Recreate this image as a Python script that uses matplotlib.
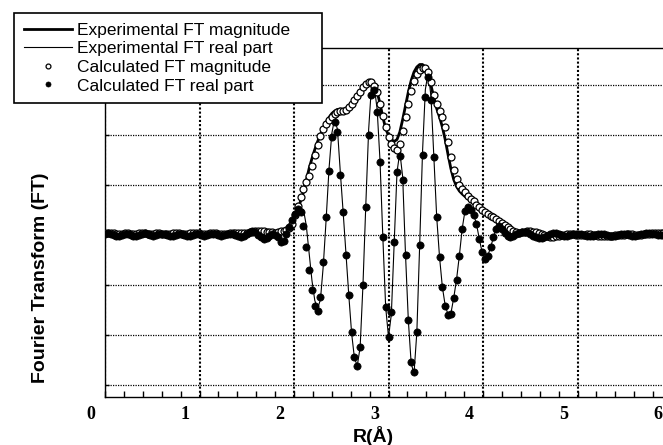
import numpy as np
import matplotlib
matplotlib.use("Agg")
import matplotlib.pyplot as plt
from matplotlib.ticker import MultipleLocator
from matplotlib.transforms import ScaledTranslation

# ---------------- data (R grid step 0.03, 0 .. 5.91) ----------------
r_grid = np.round(0.03 * np.arange(198), 2)

exp_mag = [
    # 0.00 - 1.77
    0.04, 0.05, 0.04, 0.03, 0.02, 0.02, 0.03, 0.03, 0.02, 0.01,
    0.01, 0.02, 0.03, 0.04, 0.04, 0.03, 0.02, 0.02, 0.02, 0.03,
    0.03, 0.02, 0.01, 0.01, 0.02, 0.02, 0.03, 0.03, 0.02, 0.02,
    0.02, 0.03, 0.04, 0.04, 0.03, 0.02, 0.02, 0.02, 0.03, 0.03,
    0.03, 0.02, 0.02, 0.01, 0.01, 0.02, 0.03, 0.04, 0.04, 0.03,
    0.03, 0.03, 0.04, 0.05, 0.06, 0.07, 0.07, 0.06, 0.05, 0.05,
    # 1.80 - 4.38
    0.05, 0.06, 0.05, 0.06, 0.10, 0.15, 0.25, 0.36, 0.50, 0.67,
    0.85, 1.08, 1.32, 1.52, 1.70, 1.86, 2.00, 2.12, 2.24, 2.34,
    2.42, 2.47, 2.50, 2.51, 2.50, 2.50, 2.52, 2.56, 2.62, 2.70,
    2.80, 2.92, 3.02, 3.08, 3.08, 3.00, 2.85, 2.62, 2.35, 2.12,
    1.98, 1.90, 1.86, 1.90, 2.05, 2.30, 2.58, 2.85, 3.08, 3.25,
    3.35, 3.40, 3.40, 3.33, 3.20, 2.98, 2.74, 2.52, 2.35, 2.15,
    1.90, 1.60, 1.32, 1.10, 0.96, 0.87, 0.81, 0.76, 0.72, 0.68,
    0.63, 0.59, 0.55, 0.51, 0.47, 0.43, 0.38, 0.34, 0.29, 0.25,
    0.20, 0.16, 0.12, 0.08, 0.05, 0.02, 0.01,
    # 4.41 - 5.91
    0.03, 0.06, 0.08, 0.09, 0.08, 0.06, 0.03, 0.00, -0.03, -0.05,
    -0.06, -0.05, -0.03, -0.01, 0.00, 0.01, 0.01, 0.01, 0.00, 0.00,
    0.00, 0.00, 0.01, 0.01, 0.00, -0.01, -0.02, -0.03, -0.04, -0.04,
    -0.04, -0.03, -0.02, -0.01, 0.00, 0.00, 0.00, 0.00, 0.01, 0.01,
    0.01, 0.00, 0.00, 0.01, 0.02, 0.03, 0.04, 0.05, 0.05, 0.04, 0.04,
]

exp_real = [
    0.00, 0.02, 0.03, 0.01, -0.02, -0.03, -0.01, 0.02, 0.03, 0.01,
    -0.02, -0.03, -0.01, 0.02, 0.03, 0.02, -0.01, -0.03, -0.02, 0.01,
    0.03, 0.02, -0.01, -0.03, -0.02, 0.01, 0.03, 0.02, -0.01, -0.02,
    -0.02, 0.01, 0.02, 0.02, 0.00, -0.02, -0.02, 0.00, 0.02, 0.02,
    0.00, -0.02, -0.02, 0.00, 0.02, 0.03, 0.01, -0.02, -0.04, -0.03,
    0.00, 0.04, 0.06, 0.05, 0.01, -0.04, -0.07, -0.06, -0.03, 0.00,
    0.00, -0.06, -0.18, -0.14, 0.00, 0.14, 0.28, 0.40, 0.48, 0.52,
    0.50, 0.18, -0.38, -0.92, -1.32, -1.48, -1.30, -0.62, 0.30, 1.30,
    2.02, 2.32, 2.10, 1.25, 0.45, -0.40, -1.22, -1.98, -2.48, -2.62,
    -2.25, -1.00, 0.60, 2.10, 2.98, 2.95, 2.50, 1.48, -0.05, -1.45,
    -2.05, -1.60, -0.20, 1.25, 1.65, 1.15, -0.40, -1.72, -2.58, -2.78,
    -1.95, -0.20, 1.65, 2.90, 3.25, 2.75, 1.55, 0.35, -0.45, -1.05,
    -1.42, -1.60, -1.58, -1.27, -0.90, -0.42, 0.12, 0.48, 0.56, 0.50,
    0.40, 0.22, -0.08, -0.35, -0.48, -0.43, -0.26, -0.06, 0.12, 0.18,
    0.13, 0.04, -0.02, -0.05, -0.03, 0.01, 0.03,
    0.04, 0.07, 0.08, 0.06, 0.02, -0.03, -0.07, -0.09, -0.08, -0.05,
    -0.02, 0.01, 0.03, 0.03, 0.02, 0.00, -0.02, -0.02, -0.01, 0.01,
    0.02, 0.02, 0.00, -0.02, -0.03, -0.03, -0.02, 0.00, 0.01, 0.01,
    0.00, -0.02, -0.03, -0.03, -0.01, 0.01, 0.02, 0.02, 0.00, -0.01,
    -0.02, -0.01, 0.00, 0.01, 0.02, 0.03, 0.03, 0.02, 0.01, 0.00, 0.00,
]

calc_mag = [
    0.03, 0.04, 0.04, 0.03, 0.02, 0.02, 0.02, 0.03, 0.03, 0.02,
    0.02, 0.02, 0.03, 0.03, 0.03, 0.02, 0.02, 0.02, 0.03, 0.03,
    0.02, 0.02, 0.02, 0.02, 0.03, 0.03, 0.03, 0.02, 0.02, 0.02,
    0.03, 0.03, 0.03, 0.03, 0.02, 0.02, 0.02, 0.03, 0.03, 0.03,
    0.02, 0.02, 0.02, 0.02, 0.03, 0.03, 0.04, 0.04, 0.03, 0.03,
    0.04, 0.05, 0.06, 0.07, 0.08, 0.08, 0.07, 0.06, 0.05, 0.05,
    0.04, 0.06, 0.08, 0.08, 0.10, 0.14, 0.22, 0.40, 0.58, 0.75,
    0.92, 1.05, 1.18, 1.38, 1.60, 1.80, 1.98, 2.12, 2.22, 2.30,
    2.36, 2.42, 2.45, 2.47, 2.48, 2.50, 2.55, 2.62, 2.70, 2.78,
    2.86, 2.95, 3.02, 3.06, 3.05, 2.98, 2.85, 2.62, 2.38, 2.15,
    1.95, 1.82, 1.74, 1.70, 1.82, 2.08, 2.35, 2.62, 2.88, 3.08,
    3.22, 3.30, 3.34, 3.33, 3.25, 3.05, 2.80, 2.62, 2.48, 2.35,
    2.15, 1.85, 1.55, 1.30, 1.12, 1.00, 0.92, 0.85, 0.78, 0.72,
    0.67, 0.60, 0.55, 0.50, 0.46, 0.42, 0.38, 0.35, 0.31, 0.27,
    0.23, 0.19, 0.15, 0.11, 0.07, 0.05, 0.04,
    0.05, 0.06, 0.07, 0.07, 0.06, 0.05, 0.03, 0.01, -0.01, -0.03,
    -0.04, -0.04, -0.03, -0.02, -0.01, 0.00, 0.01, 0.01, 0.01, 0.00,
    0.00, 0.00, 0.00, 0.01, 0.01, 0.00, -0.01, -0.02, -0.03, -0.03,
    -0.03, -0.02, -0.02, -0.01, 0.00, 0.00, 0.00, 0.01, 0.01, 0.01,
    0.00, 0.00, 0.00, 0.01, 0.02, 0.02, 0.03, 0.04, 0.04, 0.03, 0.03,
]

calc_real = [
    0.01, 0.03, 0.02, 0.00, -0.02, -0.02, 0.00, 0.02, 0.02, 0.00,
    -0.02, -0.02, 0.00, 0.02, 0.03, 0.01, -0.01, -0.03, -0.01, 0.01,
    0.02, 0.02, 0.00, -0.02, -0.02, 0.00, 0.02, 0.02, 0.00, -0.02,
    -0.02, 0.00, 0.02, 0.02, 0.00, -0.02, -0.01, 0.01, 0.02, 0.01,
    -0.01, -0.02, -0.01, 0.01, 0.02, 0.02, 0.00, -0.03, -0.04, -0.02,
    0.01, 0.05, 0.07, 0.05, 0.00, -0.05, -0.08, -0.06, -0.02, 0.01,
    0.00, -0.05, -0.15, -0.12, 0.02, 0.15, 0.30, 0.42, 0.52, 0.45,
    0.18, -0.25, -0.70, -1.10, -1.42, -1.52, -1.25, -0.55, 0.35, 1.28,
    1.95, 2.25, 2.05, 1.20, 0.45, -0.40, -1.20, -1.95, -2.45, -2.62,
    -2.25, -1.00, 0.55, 2.00, 2.80, 2.90, 2.45, 1.45, -0.05, -1.45,
    -2.05, -1.55, -0.15, 1.25, 1.58, 1.10, -0.40, -1.70, -2.55, -2.75,
    -1.95, -0.20, 1.60, 2.75, 3.15, 2.70, 1.55, 0.35, -0.45, -1.05,
    -1.42, -1.60, -1.58, -1.27, -0.91, -0.43, 0.12, 0.48, 0.55, 0.50,
    0.40, 0.22, -0.08, -0.35, -0.48, -0.42, -0.25, -0.05, 0.12, 0.18,
    0.12, 0.03, -0.03, -0.05, -0.02, 0.02, 0.03,
    0.05, 0.06, 0.05, 0.02, -0.02, -0.05, -0.07, -0.07, -0.05, -0.02,
    0.01, 0.03, 0.03, 0.02, 0.00, -0.02, -0.02, -0.01, 0.01, 0.02,
    0.02, 0.01, -0.01, -0.02, -0.03, -0.02, -0.01, 0.01, 0.02, 0.01,
    0.00, -0.02, -0.03, -0.02, 0.00, 0.02, 0.02, 0.01, -0.01, -0.02,
    -0.02, -0.01, 0.01, 0.02, 0.03, 0.03, 0.02, 0.01, 0.00, -0.01, 0.00,
]

x_ticks = [0, 1, 2, 3, 4, 5, 6]
x_tick_labels = ["0", "1", "2", "3", "4", "5", "6"]
y_ticks = [-3, -2, -1, 0, 1, 2, 3]
legend_labels = ["Experimental FT magnitude", "Experimental FT real part",
                 "Calculated FT magnitude", "Calculated FT real part"]

# ---------------- figure ----------------
W, H = 663, 445
fig = plt.figure(figsize=(W / 100, H / 100), dpi=100)
ax = fig.add_axes([105 / W, (H - 397) / H, 567 / W, (397 - 48) / H])

l1, = ax.plot(r_grid, exp_mag, color="black", lw=2.0, zorder=2,
              solid_joinstyle="round")
l2, = ax.plot(r_grid, exp_real, color="black", lw=0.8, zorder=2)
l3, = ax.plot(r_grid, calc_mag, ls="none", marker="o", ms=5.0, mfc="white",
              mec="black", mew=0.9, zorder=3)
l4, = ax.plot(r_grid, calc_real, ls="none", marker="o", ms=5.2, mfc="black",
              mec="black", mew=0.5, zorder=4)

ax.set_xlim(0, 6)
ax.set_ylim(-3.25, 3.73)

ax.set_xticks(x_ticks)
ax.set_xticklabels(x_tick_labels, fontfamily="Liberation Serif",
                   fontweight="bold", fontsize=13)
ax.xaxis.set_minor_locator(MultipleLocator(0.2))
ax.set_yticks(y_ticks)
ax.set_yticklabels([])
ax.tick_params(axis="x", which="major", direction="in", length=4, width=1,
               pad=6.5)
ax.tick_params(axis="x", which="minor", direction="in", length=4, width=1)
ax.tick_params(axis="y", which="major", direction="in", length=3, width=1)

offset = ScaledTranslation(-14 / 100, 0, fig.dpi_scale_trans)
for lab in ax.get_xticklabels():
    lab.set_transform(lab.get_transform() + offset)

ax.xaxis.grid(True, color="black", ls=(0, (1, 1)), lw=1.5)
ax.yaxis.grid(True, color="black", ls=(0, (1, 1)), lw=0.9)
ax.set_axisbelow(True)

for s in ["left", "bottom", "top"]:
    ax.spines[s].set_linewidth(1.0)
ax.spines["right"].set_visible(False)

fig.text(373 / W, 3.5 / H, "R(Å)", ha="center", va="baseline",
         fontfamily="Liberation Sans", fontweight="bold", fontsize=14)
fig.text(41 / W, 1 - 278 / H, "Fourier Transform (FT)", ha="center",
         va="center", rotation=90, fontfamily="Liberation Sans",
         fontweight="bold", fontsize=14)

leg = ax.legend([l1, l2, l3, l4], legend_labels, loc="upper left",
                bbox_to_anchor=(14 / W, 1 - 102 / H, 308 / W, 89 / H),
                bbox_transform=fig.transFigure, mode="expand",
                prop={"family": "Liberation Sans", "size": 12.5},
                frameon=True, fancybox=False, framealpha=1,
                edgecolor="black", handlelength=2.8, handletextpad=0.3,
                labelspacing=0.2, borderpad=0.55, borderaxespad=0,
                markerscale=0.7, numpoints=1)
leg.get_frame().set_linewidth(1.2)

fig.savefig("out.png", dpi=100)
